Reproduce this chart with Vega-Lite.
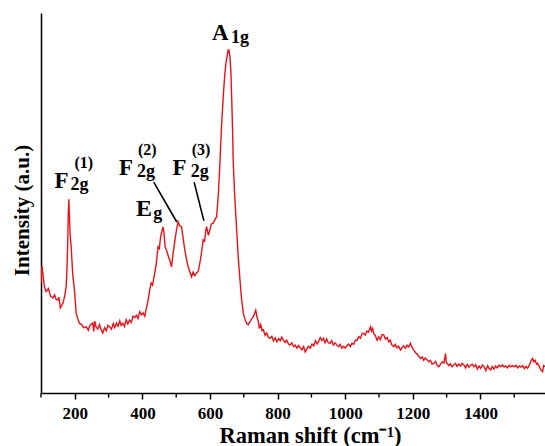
{
  "$schema": "https://vega.github.io/schema/vega-lite/v6.json",
  "autosize": {"type": "none"},
  "padding": {"left": 41, "top": 13, "right": 0, "bottom": 53},
  "width": 504,
  "height": 380,
  "background": "white",
  "config": {
    "view": {"stroke": null},
    "font": "Liberation Serif"
  },
  "datasets": {
    "spectrum": [
      {"shift":100,"intensity":29},{"shift":103,"intensity":33.5},{"shift":106,"intensity":31},{"shift":110,"intensity":28},{"shift":115,"intensity":26.7},{"shift":122,"intensity":27.5},{"shift":128,"intensity":25.5},{"shift":135,"intensity":25},{"shift":140,"intensity":25.8},{"shift":145,"intensity":24.6},{"shift":150,"intensity":24.5},{"shift":153,"intensity":25.2},{"shift":157,"intensity":22.4},{"shift":161,"intensity":23},{"shift":165,"intensity":23.7},{"shift":170,"intensity":25.5},{"shift":174.5,"intensity":28},{"shift":177,"intensity":33},{"shift":179.2,"intensity":40.3},{"shift":181,"intensity":48},{"shift":182.2,"intensity":51},{"shift":184,"intensity":47},{"shift":186,"intensity":42},{"shift":189.3,"intensity":38.5},{"shift":194,"intensity":31},{"shift":199,"intensity":27.1},{"shift":204,"intensity":21},{"shift":209,"intensity":19.5},{"shift":214,"intensity":18.3},{"shift":220,"intensity":18},{"shift":226,"intensity":17.2},{"shift":234,"intensity":17.4},{"shift":240,"intensity":16.5},{"shift":245,"intensity":17.8},{"shift":250,"intensity":18.2},{"shift":253,"intensity":18.4},{"shift":256,"intensity":16.2},{"shift":259,"intensity":18.9},{"shift":263,"intensity":17.4},{"shift":268,"intensity":16.8},{"shift":273,"intensity":18},{"shift":278,"intensity":16.6},{"shift":283,"intensity":15.8},{"shift":288,"intensity":17.2},{"shift":293,"intensity":16.4},{"shift":298,"intensity":17.8},{"shift":303,"intensity":17.4},{"shift":308,"intensity":16.8},{"shift":314,"intensity":18.3},{"shift":318,"intensity":17.2},{"shift":323,"intensity":18.4},{"shift":328,"intensity":17.6},{"shift":333,"intensity":19},{"shift":337,"intensity":17.8},{"shift":342,"intensity":18.4},{"shift":347,"intensity":17.5},{"shift":352,"intensity":19.3},{"shift":357,"intensity":18.2},{"shift":362,"intensity":19.2},{"shift":367,"intensity":18.6},{"shift":372,"intensity":20.2},{"shift":377,"intensity":19.8},{"shift":382,"intensity":20.5},{"shift":387,"intensity":19.6},{"shift":392,"intensity":21.4},{"shift":397,"intensity":20.6},{"shift":402,"intensity":21.1},{"shift":407,"intensity":20.2},{"shift":412,"intensity":22.4},{"shift":416,"intensity":24},{"shift":421.6,"intensity":27.1},{"shift":426,"intensity":29},{"shift":430,"intensity":28.4},{"shift":436.5,"intensity":31.6},{"shift":441,"intensity":34},{"shift":446.3,"intensity":38.5},{"shift":450,"intensity":38},{"shift":453,"intensity":40.5},{"shift":456.3,"intensity":42.1},{"shift":461.1,"intensity":43.7},{"shift":464,"intensity":42},{"shift":467,"intensity":38.5},{"shift":471.2,"intensity":37.6},{"shift":475,"intensity":36.5},{"shift":478,"intensity":35.5},{"shift":481,"intensity":35},{"shift":486,"intensity":33.2},{"shift":490.8,"intensity":36.8},{"shift":495,"intensity":39.5},{"shift":500.9,"intensity":42.9},{"shift":505.6,"intensity":45.1},{"shift":510,"intensity":44},{"shift":515.7,"intensity":43.8},{"shift":520,"intensity":41},{"shift":525.5,"intensity":37.6},{"shift":530,"intensity":35.4},{"shift":535.3,"intensity":33.2},{"shift":540,"intensity":32},{"shift":545.4,"intensity":30.6},{"shift":550,"intensity":31.8},{"shift":555,"intensity":30.9},{"shift":560.2,"intensity":31.6},{"shift":565,"intensity":32},{"shift":570,"intensity":34.2},{"shift":575,"intensity":37},{"shift":579.8,"intensity":40.3},{"shift":584,"intensity":40},{"shift":587,"intensity":42.5},{"shift":589.9,"intensity":43.8},{"shift":595,"intensity":41.5},{"shift":599.7,"intensity":42.9},{"shift":604,"intensity":44.5},{"shift":609.4,"intensity":44.7},{"shift":614,"intensity":45.5},{"shift":619.5,"intensity":46.4},{"shift":624.3,"intensity":51.7},{"shift":629.3,"intensity":60.5},{"shift":634,"intensity":70},{"shift":639.1,"intensity":78},{"shift":643,"intensity":83},{"shift":647.1,"intensity":86.8},{"shift":651,"intensity":89},{"shift":653.9,"intensity":90.3},{"shift":656,"intensity":90.2},{"shift":659,"intensity":88.5},{"shift":662,"intensity":84},{"shift":664,"intensity":78},{"shift":666.5,"intensity":70},{"shift":668.8,"intensity":60.5},{"shift":673,"intensity":52},{"shift":678.9,"intensity":42.9},{"shift":684,"intensity":35},{"shift":688.7,"intensity":29.7},{"shift":693,"intensity":25},{"shift":698.5,"intensity":21},{"shift":703,"intensity":19.5},{"shift":708.5,"intensity":18.3},{"shift":713,"intensity":18},{"shift":718.3,"intensity":18.8},{"shift":723,"intensity":19.5},{"shift":728.1,"intensity":20.1},{"shift":732,"intensity":21},{"shift":735.2,"intensity":21.8},{"shift":739,"intensity":20},{"shift":743,"intensity":18.8},{"shift":746,"intensity":17},{"shift":750,"intensity":18},{"shift":754,"intensity":16.4},{"shift":757.8,"intensity":16.6},{"shift":763,"intensity":15.2},{"shift":768,"intensity":15.8},{"shift":773,"intensity":14.6},{"shift":777.7,"intensity":14.4},{"shift":783,"intensity":14.9},{"shift":788,"intensity":13.7},{"shift":793,"intensity":14.5},{"shift":797.6,"intensity":13.5},{"shift":803,"intensity":14.3},{"shift":808,"intensity":13.8},{"shift":812,"intensity":14.7},{"shift":817.1,"intensity":13.9},{"shift":822,"intensity":13.3},{"shift":827,"intensity":13.9},{"shift":832,"intensity":12.9},{"shift":837,"intensity":12.6},{"shift":842,"intensity":13.2},{"shift":847,"intensity":12.2},{"shift":852,"intensity":12.6},{"shift":856.9,"intensity":11.8},{"shift":862,"intensity":12.5},{"shift":867,"intensity":11.9},{"shift":872,"intensity":11.4},{"shift":877,"intensity":12.2},{"shift":881.5,"intensity":10.8},{"shift":886,"intensity":11.5},{"shift":891,"intensity":12.3},{"shift":896.4,"intensity":11.8},{"shift":902,"intensity":12.9},{"shift":907,"intensity":12.4},{"shift":912,"intensity":13.8},{"shift":917,"intensity":12.9},{"shift":921,"intensity":13.5},{"shift":926,"intensity":14.6},{"shift":931,"intensity":13.8},{"shift":935.8,"intensity":14.4},{"shift":940,"intensity":13.2},{"shift":945,"intensity":14.2},{"shift":950,"intensity":13.2},{"shift":955.7,"intensity":13.1},{"shift":960,"intensity":13.8},{"shift":965,"intensity":12.6},{"shift":970,"intensity":13.2},{"shift":975.6,"intensity":12.6},{"shift":980,"intensity":12.2},{"shift":985,"intensity":12.8},{"shift":990,"intensity":11.8},{"shift":995,"intensity":12.3},{"shift":1000.2,"intensity":11.8},{"shift":1005,"intensity":12.5},{"shift":1010,"intensity":12.9},{"shift":1015,"intensity":12.2},{"shift":1020,"intensity":13.1},{"shift":1025,"intensity":12.8},{"shift":1030,"intensity":13.9},{"shift":1035,"intensity":13.9},{"shift":1040,"intensity":14.8},{"shift":1045,"intensity":14.4},{"shift":1050,"intensity":15.7},{"shift":1054.5,"intensity":15.7},{"shift":1059,"intensity":15.2},{"shift":1064,"intensity":16.3},{"shift":1069,"intensity":16},{"shift":1074.4,"intensity":17.4},{"shift":1078,"intensity":16.3},{"shift":1081,"intensity":17},{"shift":1084.2,"intensity":15.7},{"shift":1089,"intensity":15.1},{"shift":1094.3,"intensity":13.9},{"shift":1099,"intensity":14.8},{"shift":1104,"intensity":14},{"shift":1109,"intensity":15.4},{"shift":1113.8,"intensity":15.3},{"shift":1119,"intensity":14.2},{"shift":1124,"intensity":14.6},{"shift":1128.7,"intensity":13.5},{"shift":1133,"intensity":13.9},{"shift":1138,"intensity":12.6},{"shift":1143.5,"intensity":12.2},{"shift":1148,"intensity":12.8},{"shift":1153,"intensity":11.9},{"shift":1158,"intensity":12.3},{"shift":1163.4,"intensity":11.3},{"shift":1168,"intensity":11.9},{"shift":1173,"intensity":12.4},{"shift":1178.2,"intensity":11.8},{"shift":1183,"intensity":12.6},{"shift":1188,"intensity":12.1},{"shift":1193,"intensity":13.1},{"shift":1198,"intensity":12},{"shift":1202.8,"intensity":11.3},{"shift":1208,"intensity":10.6},{"shift":1213,"intensity":10.3},{"shift":1218,"intensity":9.6},{"shift":1222.7,"intensity":9.1},{"shift":1228,"intensity":9.5},{"shift":1232,"intensity":8.6},{"shift":1237,"intensity":9.2},{"shift":1242.6,"intensity":8.7},{"shift":1247,"intensity":8.2},{"shift":1252,"intensity":8.6},{"shift":1257,"intensity":7.6},{"shift":1262.2,"intensity":7.8},{"shift":1267,"intensity":8.3},{"shift":1272,"intensity":7.3},{"shift":1277,"intensity":6.9},{"shift":1282,"intensity":7.6},{"shift":1287.1,"intensity":8.2},{"shift":1292,"intensity":7.9},{"shift":1296.9,"intensity":10.4},{"shift":1299,"intensity":8},{"shift":1301.9,"intensity":7.8},{"shift":1306,"intensity":7.2},{"shift":1311,"intensity":7.7},{"shift":1316,"intensity":6.9},{"shift":1321.5,"intensity":7.4},{"shift":1326,"intensity":7.8},{"shift":1331,"intensity":7},{"shift":1336,"intensity":7.6},{"shift":1341,"intensity":7.1},{"shift":1346,"intensity":7.8},{"shift":1351.2,"intensity":7.4},{"shift":1356,"intensity":6.6},{"shift":1361,"intensity":7.5},{"shift":1366,"intensity":6.8},{"shift":1371,"intensity":7.3},{"shift":1376,"intensity":7.6},{"shift":1380.9,"intensity":6.9},{"shift":1386,"intensity":7.4},{"shift":1391,"intensity":6.3},{"shift":1396,"intensity":7.1},{"shift":1400.8,"intensity":6.5},{"shift":1406,"intensity":7.4},{"shift":1411,"intensity":6.9},{"shift":1416,"intensity":5.9},{"shift":1421,"intensity":7.2},{"shift":1426,"intensity":6.4},{"shift":1430.4,"intensity":6.1},{"shift":1435,"intensity":7},{"shift":1440,"intensity":6.3},{"shift":1445,"intensity":7.1},{"shift":1450,"intensity":6.6},{"shift":1455,"intensity":7.3},{"shift":1460.1,"intensity":6.9},{"shift":1465,"intensity":7.4},{"shift":1470,"intensity":6.8},{"shift":1475,"intensity":7.1},{"shift":1480,"intensity":6.6},{"shift":1485,"intensity":7.3},{"shift":1490,"intensity":6.9},{"shift":1495,"intensity":7.2},{"shift":1499.5,"intensity":6.9},{"shift":1505,"intensity":7.3},{"shift":1510,"intensity":6.6},{"shift":1515,"intensity":7.1},{"shift":1520,"intensity":6.8},{"shift":1525,"intensity":7.2},{"shift":1530,"intensity":6.4},{"shift":1535,"intensity":7},{"shift":1539.3,"intensity":6.5},{"shift":1545,"intensity":7.4},{"shift":1550,"intensity":8.5},{"shift":1554.1,"intensity":9.1},{"shift":1558,"intensity":8.2},{"shift":1562,"intensity":8.6},{"shift":1566,"intensity":7.6},{"shift":1569,"intensity":7.8},{"shift":1574,"intensity":7},{"shift":1578,"intensity":6.2},{"shift":1583.8,"intensity":5.6},{"shift":1587,"intensity":7.2},{"shift":1591,"intensity":6.9}
    ],
    "minorTicks": [
      {"shift": 100}, {"shift": 300}, {"shift": 500}, {"shift": 700}, {"shift": 900}, {"shift": 1100}, {"shift": 1300}, {"shift": 1500}
    ],
    "leaders": [
      {"x1": 433.5, "y1": 55.5, "x2": 501.7, "y2": 45},
      {"x1": 553, "y1": 55.5, "x2": 581.9, "y2": 45.3}
    ],
    "mainText": [
      {"t": "A", "x": 605.6, "y": 92.9},
      {"t": "F", "x": 139.8, "y": 53.9},
      {"t": "F", "x": 330.5, "y": 57.4},
      {"t": "F", "x": 489, "y": 57.4}
    ],
    "eText": [
      {"t": "E", "x": 381, "y": 46.6}
    ],
    "subText": [
      {"t": "1g", "x": 662, "y": 92.2},
      {"t": "2g", "x": 187, "y": 53.4},
      {"t": "2g", "x": 384, "y": 56.8},
      {"t": "2g", "x": 543, "y": 56.8},
      {"t": "g", "x": 432, "y": 45.8}
    ],
    "supText": [
      {"t": "(1)", "x": 199, "y": 59.2},
      {"t": "(2)", "x": 387, "y": 62.6},
      {"t": "(3)", "x": 546, "y": 62.6}
    ]
  },
  "layer": [
    {
      "mark": {"type": "rule", "color": "#6a6a6a", "strokeWidth": 2},
      "encoding": {"y": {"datum": 100, "type": "quantitative", "scale": {"domain": [0, 100]}}}
    },
    {
      "data": {"name": "spectrum"},
      "mark": {"type": "line", "color": "#ea1218", "strokeWidth": 1.4, "clip": true},
      "encoding": {
        "x": {
          "field": "shift", "type": "quantitative",
          "scale": {"domain": [100, 1591], "nice": false, "zero": false},
          "axis": {
            "title": "Raman shift (cm⁻¹)",
            "values": [200,400,600,800,1000,1200,1400],
            "format": "d",
            "grid": false,
            "domainColor": "black", "domainWidth": 1.5,
            "ticks": true,
            "tickColor": "black", "tickWidth": 1.5,
            "tickSize": 6,
            "labelFont": "Liberation Serif", "labelFontWeight": "bold", "labelFontSize": 17, "labelColor": "black",
            "labelPadding": 6,
            "titleFont": "Liberation Serif", "titleFontWeight": "bold", "titleFontSize": 22.5, "titleColor": "black",
            "titleX": 269, "titleY": 49, "titleBaseline": "alphabetic", "titleAlign": "center"
          }
        },
        "y": {
          "field": "intensity", "type": "quantitative",
          "scale": {"domain": [0, 100], "nice": false},
          "axis": {
            "title": "Intensity (a.u.)",
            "ticks": false, "labels": false, "grid": false,
            "domainColor": "black", "domainWidth": 1.5,
            "titleFont": "Liberation Serif", "titleFontWeight": "bold", "titleFontSize": 21, "titleColor": "black",
            "titleX": -13, "titleY": 197, "titleBaseline": "alphabetic", "titleAlign": "center", "titleAngle": 270
          }
        }
      }
    },
    {
      "data": {"name": "minorTicks"},
      "mark": {"type": "rule", "color": "black", "strokeWidth": 1.4, "clip": false},
      "encoding": {
        "x": {"field": "shift", "type": "quantitative"},
        "y": {"datum": 0, "type": "quantitative"},
        "y2": {"datum": -1.2}
      }
    },
    {
      "data": {"name": "leaders"},
      "mark": {"type": "rule", "color": "black", "strokeWidth": 1.6},
      "encoding": {
        "x": {"field": "x1", "type": "quantitative"},
        "y": {"field": "y1", "type": "quantitative"},
        "x2": {"field": "x2"},
        "y2": {"field": "y2"}
      }
    },
    {
      "data": {"name": "mainText"},
      "mark": {"type": "text", "font": "Liberation Serif", "fontWeight": "bold", "fontSize": 23, "align": "left", "baseline": "alphabetic", "color": "black"},
      "encoding": {
        "x": {"field": "x", "type": "quantitative"},
        "y": {"field": "y", "type": "quantitative"},
        "text": {"field": "t"}
      }
    },
    {
      "data": {"name": "eText"},
      "mark": {"type": "text", "font": "Liberation Serif", "fontWeight": "bold", "fontSize": 24, "align": "left", "baseline": "alphabetic", "color": "black"},
      "encoding": {
        "x": {"field": "x", "type": "quantitative"},
        "y": {"field": "y", "type": "quantitative"},
        "text": {"field": "t"}
      }
    },
    {
      "data": {"name": "subText"},
      "mark": {"type": "text", "font": "Liberation Serif", "fontWeight": "bold", "fontSize": 18, "align": "left", "baseline": "alphabetic", "color": "black"},
      "encoding": {
        "x": {"field": "x", "type": "quantitative"},
        "y": {"field": "y", "type": "quantitative"},
        "text": {"field": "t"}
      }
    },
    {
      "data": {"name": "supText"},
      "mark": {"type": "text", "font": "Liberation Serif", "fontWeight": "bold", "fontSize": 16, "align": "left", "baseline": "alphabetic", "color": "black"},
      "encoding": {
        "x": {"field": "x", "type": "quantitative"},
        "y": {"field": "y", "type": "quantitative"},
        "text": {"field": "t"}
      }
    }
  ]
}
